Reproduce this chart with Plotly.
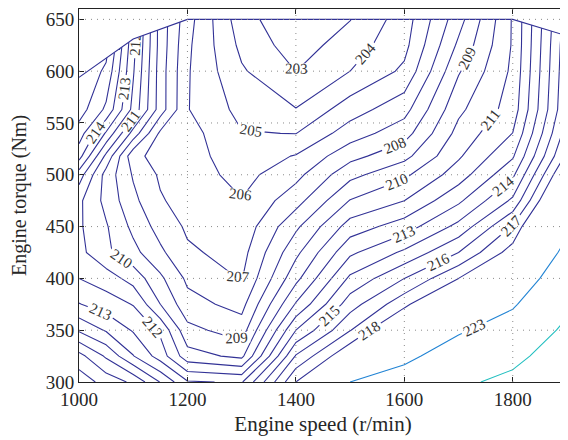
import plotly.graph_objects as go

# Engine speed (r/min) and torque (Nm) grid of the map
speeds = [1000, 1050, 1100, 1150, 1200, 1300, 1400, 1500, 1600, 1700, 1800, 1900]
torques = [300, 325, 350, 375, 400, 425, 450, 475, 500, 518, 540, 563, 600, 625, 650]

bsfc = [
    [218.6, 217.6, 216.8, 214.95, 213.1, 212.9, 218.0, 223.0, 224.6, 227.3, 229.0, 232.0],
    [217.35, 215.85, 214.05, 212.55, 210.4, 209.75, 216.1, 219.0, 222.2, 224.8, 226.9, 230.4],
    [214.85, 213.9, 212.9, 211.8, 209.3, 208.5, 214.0, 216.95, 219.85, 222.6, 224.7, 228.8],
    [213.05, 212.5, 211.95, 210.0, 208.35, 207.67, 212.1, 215.55, 217.7, 220.5, 222.6, 227.2],
    [212.0, 211.5, 210.6, 209.2, 207.8, 206.94, 210.7, 214.2, 216.0, 218.0, 220.5, 225.5],
    [211.3, 210.2, 209.3, 208.2, 207.15, 206.64, 209.75, 212.8, 214.2, 216.0, 218.5, 223.9],
    [211.15, 210.1, 208.75, 207.6, 206.85, 206.34, 208.8, 211.45, 212.5, 214.3, 217.1, 222.4],
    [211.2, 209.7, 208.25, 207.1, 206.6, 206.04, 207.6, 210.05, 211.0, 212.8, 215.2, 220.9],
    [212.5, 209.6, 207.9, 206.85, 206.5, 205.66, 206.7, 208.7, 209.8, 211.5, 213.8, 219.4],
    [214.4, 210.75, 207.3, 206.6, 206.45, 205.38, 206.07, 207.67, 208.7, 210.86, 212.88, 218.25],
    [215.5, 212.87, 209.6, 206.8, 206.4, 205.05, 204.98, 206.5, 207.58, 210.33, 212.02, 217.5],
    [216.5, 214.8, 211.7, 208.5, 206.05, 204.69, 204.04, 205.54, 206.64, 209.78, 211.45, 216.95],
    [216.9, 215.8, 212.1, 208.5, 206.1, 204.12, 202.99, 204.0, 205.2, 208.9, 211.2, 216.8],
    [217.3, 216.4, 212.3, 208.6, 206.2, 203.75, 202.5, 203.5, 204.7, 208.2, 211.1, 216.7],
    [217.8, 217.0, 212.5, 208.6, 206.4, 203.4, 202.2, 202.97, 204.5, 207.6, 211.1, 216.5],
]

# Maximum torque curve (upper boundary of the map)
max_speed = [1000, 1100, 1200, 1800, 1900]
max_torque = [594, 631, 650, 650, 634]

# Contour levels (start, end, step)
low_levels = (203, 218, 1)
high_levels = (223, 228, 5)

x_ticks = [1000, 1200, 1400, 1600, 1800]
y_ticks = [300, 350, 400, 450, 500, 550, 600, 650]
x_range = [1000, 1900]
y_range = [300, 660]

NAVY = "#323296"
SERIF = "Liberation Serif, Times New Roman, serif"
label_font = dict(family=SERIF, size=15, color="#333333")

fig = go.Figure()

fig.add_trace(go.Contour(
    x=speeds, y=torques, z=bsfc,
    autocontour=False,
    contours=dict(start=low_levels[0], end=low_levels[1], size=low_levels[2],
                  coloring="lines", showlabels=True, labelfont=label_font),
    colorscale=[[0, NAVY], [1, NAVY]],
    line=dict(width=1.1, smoothing=0),
    showscale=False, hoverinfo="skip",
))
fig.add_trace(go.Contour(
    x=speeds, y=torques, z=bsfc,
    autocontour=False,
    contours=dict(start=high_levels[0], end=high_levels[1], size=high_levels[2],
                  coloring="lines", showlabels=True, labelfont=label_font),
    colorscale=[[0, "#2284d4"], [1, "#22bfc0"]],
    line=dict(width=1.1, smoothing=0),
    showscale=False, hoverinfo="skip",
))

# blank out the region above the max torque curve
mask_x = [x_range[0]] + max_speed + [x_range[1]]
mask_y = [y_range[1]] + max_torque + [y_range[1]]
fig.add_trace(go.Scatter(
    x=mask_x, y=mask_y, mode="lines", fill="toself", fillcolor="white",
    line=dict(width=0, color="white"), hoverinfo="skip", showlegend=False,
))
fig.add_trace(go.Scatter(
    x=max_speed, y=max_torque, mode="lines",
    line=dict(color=NAVY, width=1.1), hoverinfo="skip", showlegend=False,
))

# dotted grid drawn on top
grid_style = dict(color="#8a8a8a", width=1, dash="1px,5px")
for gx in x_ticks[1:]:
    fig.add_shape(type="line", xref="x", yref="y", x0=gx, x1=gx,
                  y0=y_range[0], y1=y_range[1], line=grid_style, layer="above")
for gy in y_ticks[1:]:
    fig.add_shape(type="line", xref="x", yref="y", x0=x_range[0], x1=x_range[1],
                  y0=gy, y1=gy, line=grid_style, layer="above")

axis_common = dict(
    showgrid=False, zeroline=False, showline=True, linecolor="#222222",
    linewidth=1, mirror="ticks", ticks="inside", ticklen=5, tickcolor="#222222",
    tickfont=dict(family=SERIF, size=19, color="#262626"), automargin=False,
)
fig.update_xaxes(range=x_range, tickvals=x_ticks, **axis_common,
                 title=dict(text="Engine speed (r/min)",
                            font=dict(family=SERIF, size=21, color="#262626"),
                            standoff=7))
fig.update_yaxes(range=y_range, tickvals=y_ticks, **axis_common,
                 title=dict(text="Engine torque (Nm)",
                            font=dict(family=SERIF, size=20, color="#262626"),
                            standoff=15))

# the page body adds an 8 px margin, so the figure is 8 px smaller
fig.update_layout(
    width=560, height=432,
    margin=dict(l=71, r=1, t=1, b=58),
    paper_bgcolor="white", plot_bgcolor="white",
    showlegend=False,
)

fig.write_html("out.html")
